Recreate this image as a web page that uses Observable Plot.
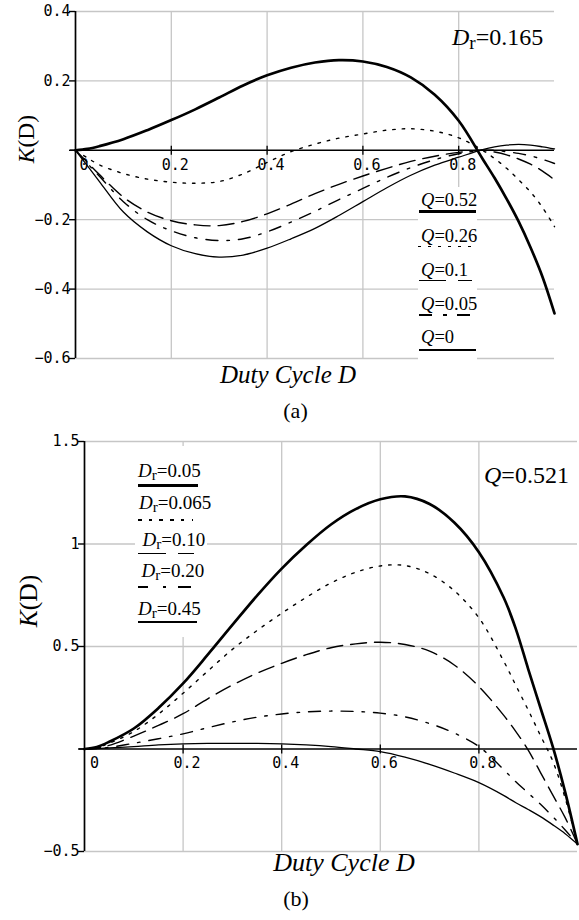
<!DOCTYPE html>
<html><head><meta charset="utf-8">
<script src="https://cdn.jsdelivr.net/npm/d3@7"></script>
<script src="https://cdn.jsdelivr.net/npm/@observablehq/plot@0.6"></script>
<style>
html,body{margin:0;padding:0;background:#fff;}
#wrap{position:relative;width:579px;height:920px;overflow:hidden;color:#000;}
.t{position:absolute;white-space:nowrap;font-family:"Liberation Serif","DejaVu Serif","Times New Roman",Times,serif;}
.sub{font-size:0.8em;position:relative;top:0.2em;font-style:normal;}
.seg{position:absolute;background:#000;}
.box{position:absolute;background:#fff;}
</style></head><body><div id="wrap"></div>
<script>
// ---------- data ----------
const D = [0,0.025,0.05,0.1,0.15,0.2,0.25,0.3,0.35,0.4,0.45,0.5,0.55,0.6,0.65,0.7,0.75,0.8,0.85,0.875,0.9,0.925,0.95,0.975,1];

// Panel (a): Dr = 0.165, K(D) for several Q
const Ka_Q052 = [0,0.004,0.012,0.032,0.058,0.087,0.118,0.152,0.187,0.216,0.238,0.253,0.26,0.256,0.24,0.21,0.16,0.085,-0.025,-0.08,-0.14,-0.205,-0.28,-0.365,-0.47];
const Ka_Q026 = [0,-0.022,-0.042,-0.067,-0.083,-0.092,-0.095,-0.09,-0.068,-0.035,-0.004,0.018,0.035,0.047,0.058,0.062,0.055,0.036,0.0,-0.024,-0.052,-0.085,-0.12,-0.165,-0.22];
const Ka_Q010 = [0,-0.035,-0.07,-0.135,-0.178,-0.203,-0.215,-0.217,-0.205,-0.183,-0.155,-0.125,-0.098,-0.074,-0.052,-0.032,-0.017,-0.006,0.0,-0.005,-0.013,-0.025,-0.04,-0.06,-0.085];
const Ka_Q005 = [0,-0.038,-0.075,-0.148,-0.2,-0.232,-0.252,-0.26,-0.255,-0.235,-0.207,-0.176,-0.142,-0.11,-0.078,-0.05,-0.027,-0.01,0.0,0.0,-0.004,-0.009,-0.016,-0.026,-0.038];
const Ka_Q000 = [0,-0.045,-0.09,-0.178,-0.235,-0.275,-0.298,-0.308,-0.302,-0.282,-0.255,-0.225,-0.188,-0.148,-0.108,-0.072,-0.043,-0.02,0.002,0.01,0.015,0.017,0.015,0.01,0.004];

// Panel (b): Q = 0.521, K(D) for several Dr
const Kb_Dr005  = [0,0.01,0.035,0.1,0.2,0.32,0.46,0.605,0.748,0.88,0.995,1.095,1.17,1.218,1.232,1.195,1.105,0.96,0.74,0.585,0.39,0.2,0.01,-0.21,-0.464];
const Kb_Dr0065 = [0,0.008,0.028,0.085,0.17,0.272,0.38,0.486,0.578,0.662,0.74,0.81,0.862,0.893,0.895,0.855,0.772,0.64,0.43,0.31,0.19,0.065,-0.06,-0.24,-0.464];
const Kb_Dr010  = [0,0.005,0.018,0.063,0.115,0.172,0.245,0.312,0.37,0.418,0.46,0.494,0.513,0.521,0.51,0.477,0.41,0.305,0.165,0.085,-0.005,-0.115,-0.225,-0.335,-0.464];
const Kb_Dr020  = [0,0.002,0.008,0.028,0.05,0.074,0.104,0.132,0.155,0.171,0.181,0.185,0.183,0.175,0.157,0.124,0.078,0.012,-0.1,-0.16,-0.215,-0.27,-0.33,-0.395,-0.464];
const Kb_Dr045  = [0,0.002,0.005,0.012,0.02,0.025,0.027,0.027,0.027,0.025,0.02,0.012,0.0,-0.013,-0.04,-0.075,-0.117,-0.164,-0.226,-0.262,-0.295,-0.33,-0.37,-0.413,-0.464];

const xGrid = [0.2,0.4,0.6,0.8];
const xLabels = [0.2,0.4,0.6,0.8];
const yTicksA = [0.4,0.2,0,-0.2,-0.4,-0.6];
const yTicksB = [1.5,1,0.5,0,-0.5];

const legendA = ["0.52","0.26","0.1","0.05","0"];
const legendB = ["0.05","0.065","0.10","0.20","0.45"];

// ---------- styles ----------
const STY = {
  thick:   {strokeWidth: 2.7},
  dotted:  {strokeWidth: 1.4, strokeDasharray: "2.5,7"},
  dashed:  {strokeWidth: 1.4, strokeDasharray: "16,8"},
  dashdot: {strokeWidth: 1.4, strokeDasharray: "12,9,2.5,9"},
  thin:    {strokeWidth: 1.3}
};

const fmt = v => v === 0 ? "" : d3.format("~g")(v).replace("-", "\u2212");
const vtick = {draw(ctx, size){ const h = Math.sqrt(size/Math.PI); ctx.moveTo(0,-h); ctx.lineTo(0,h); }};

function rows(arr){ return D.map((d,i)=>({D:d, K:arr[i]})); }

function panel({height, mTop, mBottom, mLeft, mRight, yDomain, yTicks, zeroDx, series}) {
  return Plot.plot({
    width: 579, height,
    marginTop: mTop, marginBottom: mBottom, marginLeft: mLeft, marginRight: mRight,
    x: {domain: [0,1], axis: null},
    y: {domain: yDomain, axis: null},
    style: {fontFamily: '"DejaVu Sans Mono", monospace', fontSize: "15px", color: "black", background: "transparent", overflow: "visible"},
    marks: [
      Plot.gridX(xGrid, {stroke: "#c6c6c6", strokeOpacity: 1, strokeWidth: 1.3}),
      Plot.gridY(yTicks.filter(v => v !== 0), {stroke: "#c6c6c6", strokeOpacity: 1, strokeWidth: 1.3}),
      Plot.ruleY([0], {stroke: "black", strokeWidth: 1.4, insetLeft: -5}),
      Plot.ruleX([0], {stroke: "black", strokeWidth: 1.7}),
      Plot.axisY(yTicks, {tickSize: 6, tickPadding: -1, tickFormat: fmt, strokeWidth: 1.4, label: null}),
      Plot.dot(xGrid, {x: d => d, y: () => 0, symbol: vtick, r: 4.5, stroke: "black", strokeWidth: 1.3, fill: "none"}),
      Plot.text([0], {x: d => d, y: () => 0, text: d => "0", dy: 14.5, dx: zeroDx, fill: "black"}),
      Plot.text(xLabels, {x: d => d, y: () => 0, text: d => d3.format("~g")(d), dy: 14.5, dx: 4, fill: "black"}),
      ...series.map(([arr, st]) => Plot.line(rows(arr), {x: "D", y: "K", curve: "catmull-rom", stroke: "black", ...st}))
    ]
  });
}

const wrap = document.getElementById("wrap");

const pa = panel({height: 420, mTop: 11, mBottom: 62, mLeft: 75, mRight: 25, yDomain: [-0.6, 0.4], yTicks: yTicksA, zeroDx: 8.5,
  series: [[Ka_Q052, STY.thick],[Ka_Q026, STY.dotted],[Ka_Q010, STY.dashed],[Ka_Q005, STY.dashdot],[Ka_Q000, STY.thin]]});
pa.style.position = "absolute"; pa.style.left = "0px"; pa.style.top = "0px";
wrap.appendChild(pa);

const pb = panel({height: 490, mTop: 11, mBottom: 69, mLeft: 84, mRight: 2, yDomain: [-0.5, 1.5], yTicks: yTicksB, zeroDx: 10,
  series: [[Kb_Dr005, STY.thick],[Kb_Dr0065, STY.dotted],[Kb_Dr010, STY.dashed],[Kb_Dr020, STY.dashdot],[Kb_Dr045, STY.thin]]});
pb.style.position = "absolute"; pb.style.left = "0px"; pb.style.top = "430px";
wrap.appendChild(pb);

// ---------- html helpers ----------
const SERIF = '"Liberation Serif","DejaVu Serif","Times New Roman",Times,serif';
function txt(html, x, base, size, anchor) {
  const d = document.createElement("div");
  d.className = "t";
  d.innerHTML = html;
  d.style.fontFamily = SERIF;
  d.style.fontSize = size + "px"; d.style.lineHeight = size + "px";
  d.style.left = x + "px"; d.style.top = (base - 0.8375*size) + "px";
  if (anchor === "middle") d.style.transform = "translateX(-50%)";
  wrap.appendChild(d);
}
function rot(html, cx, cy, size) {
  const d = document.createElement("div");
  d.className = "t";
  d.innerHTML = html;
  d.style.fontFamily = SERIF;
  d.style.fontSize = size + "px"; d.style.lineHeight = size + "px";
  d.style.left = cx + "px"; d.style.top = cy + "px";
  d.style.transform = "translate(-50%,-50%) rotate(-90deg)";
  wrap.appendChild(d);
}
function box(x, y, w, h) {
  const d = document.createElement("div");
  d.className = "box";
  d.style.cssText += `left:${x}px;top:${y}px;width:${w}px;height:${h}px;`;
  wrap.appendChild(d);
}
function segs(x1, x2, y, w, dash) {
  let pos = x1, i = 0, on = true;
  const arr = dash || [x2 - x1];
  while (pos < x2) {
    const len = Math.min(arr[i % arr.length], x2 - pos);
    if (on) {
      const d = document.createElement("div");
      d.className = "seg";
      d.style.cssText += `left:${pos}px;top:${y - w/2}px;width:${len}px;height:${w}px;`;
      wrap.appendChild(d);
    }
    pos += arr[i % arr.length]; i++; on = !on;
  }
}

// axis titles and captions
rot("<i>K</i>(D)", 27, 139, 23.5);
rot("<i>K</i>(D)", 29, 601, 25.5);
txt("<i>Duty Cycle D</i>", 288, 383, 25, "middle");
txt("<i>Duty Cycle D</i>", 344, 871.5, 26, "middle");
txt("(a)", 295.5, 418, 22, "middle");
txt("(b)", 296, 906, 22, "middle");
txt('<i>D</i><span class="sub">r</span>=0.165', 452, 45, 24);
txt('<i>Q</i>=0.521', 484, 483, 24);

// legend (a)
box(418, 187, 59, 173);
const baseA = [206.5, 242, 276, 310, 343];
const lineA = [211.5, 246.5, 280.5, 315, 350];
legendA.forEach((v, i) => txt(`<i>Q</i>=${v}`, 421, baseA[i], 18.5));
segs(419, 476, lineA[0], 3, null);
segs(418, 471, lineA[1], 1.4, [2.5, 7.5]);
segs(419, 473, lineA[2], 1.5, [27, 12, 14, 100]);
segs(419, 471, lineA[3], 1.5, [13, 11, 4, 10, 13, 100]);
segs(419, 476, lineA[4], 1.6, null);

// legend (b)
box(135, 446, 72, 191);
const baseB = [477, 509, 546, 577, 615];
const lineB = [485, 520, 553.5, 587, 622];
const xB = [138, 139, 142.5, 141.5, 138];
legendB.forEach((v, i) => txt(`<i>D</i><span class="sub">r</span>=${v}`, xB[i], baseB[i], 19));
segs(138, 198, lineB[0], 3, null);
segs(138, 193, lineB[1], 1.4, [3.5, 7.2]);
segs(138, 195, lineB[2], 1.5, [28, 12, 16, 100]);
segs(138, 192, lineB[3], 1.5, [10, 15, 3, 12, 13, 100]);
segs(138, 197, lineB[4], 1.6, null);
</script></body></html>
